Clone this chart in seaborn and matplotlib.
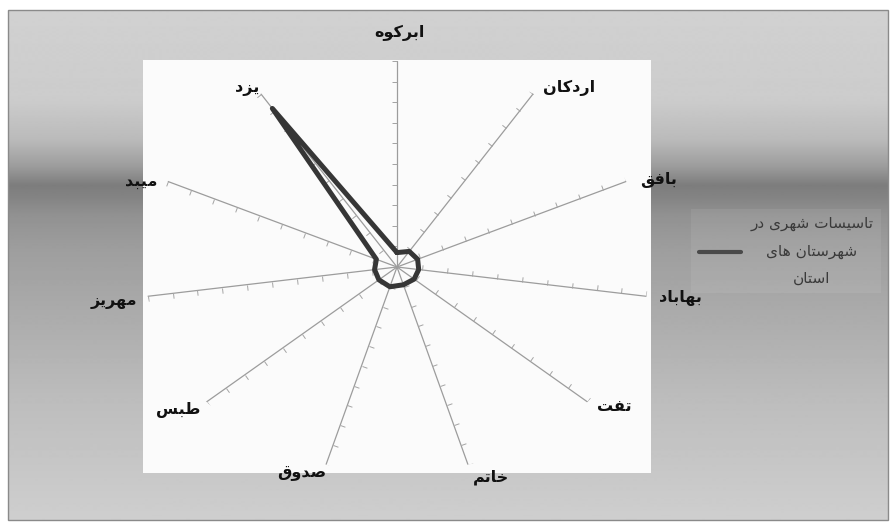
import numpy as np
import pandas as pd
import matplotlib.pyplot as plt
import seaborn as sns
from matplotlib.path import Path
from matplotlib.markers import MarkerStyle
from matplotlib.transforms import Affine2D
from matplotlib.patches import Rectangle
from matplotlib.lines import Line2D

# Data
cities = ['ابرکوه', 'اردکان', 'بافق', 'بهاباد', 'تفت', 'خاتم',
          'صدوق', 'طبس', 'مهریز', 'میبد', 'یزد']
values = [7, 9, 9, 8.7, 9, 9, 10, 9.5, 9, 9, 91.5]
series_name = ['تاسیسات شهری در', 'شهرستان های', 'استان']
r_max = 100
r_ticks = list(range(10, 101, 10))

# label offsets in pixels from spoke end, and alignment
label_pos = [(2, 28, 'center'), (10, 6, 'left'), (14, 1, 'left'), (13, -2, 'left'),
             (10, -5, 'left'), (5, -13, 'left'), (0, -9, 'right'), (-6, -8, 'right'),
             (-10, -5, 'right'), (-10, 0, 'right'), (-2, 5, 'right')]

# persian glyph shaping (matplotlib has no complex text layout)
FORMS = {
    'ا': ('\uFE8D', '\uFE8E', None, None),
    'ب': ('\uFE8F', '\uFE90', '\uFE91', '\uFE92'),
    'ت': ('\uFE95', '\uFE96', '\uFE97', '\uFE98'),
    'خ': ('\uFEA5', '\uFEA6', '\uFEA7', '\uFEA8'),
    'د': ('\uFEA9', '\uFEAA', None, None),
    'ر': ('\uFEAD', '\uFEAE', None, None),
    'ز': ('\uFEAF', '\uFEB0', None, None),
    'س': ('\uFEB1', '\uFEB2', '\uFEB3', '\uFEB4'),
    'ش': ('\uFEB5', '\uFEB6', '\uFEB7', '\uFEB8'),
    'ص': ('\uFEB9', '\uFEBA', '\uFEBB', '\uFEBC'),
    'ط': ('\uFEC1', '\uFEC2', '\uFEC3', '\uFEC4'),
    'ف': ('\uFED1', '\uFED2', '\uFED3', '\uFED4'),
    'ق': ('\uFED5', '\uFED6', '\uFED7', '\uFED8'),
    'م': ('\uFEE1', '\uFEE2', '\uFEE3', '\uFEE4'),
    'ن': ('\uFEE5', '\uFEE6', '\uFEE7', '\uFEE8'),
    'ه': ('\uFEE9', '\uFEEA', '\uFEEB', '\uFEEC'),
    'و': ('\uFEED', '\uFEEE', None, None),
    'ک': ('\uFB8E', '\uFB8F', '\uFB90', '\uFB91'),
    'ی': ('\uFBFC', '\uFBFD', '\uFBFE', '\uFBFF'),
}


def fa(text):
    out = []
    for i, ch in enumerate(text):
        if ch not in FORMS:
            out.append(ch)
            continue
        prev = text[i - 1] if i > 0 else None
        nxt = text[i + 1] if i + 1 < len(text) else None
        after_join = prev in FORMS and FORMS[prev][2] is not None
        before_join = FORMS[ch][2] is not None and nxt in FORMS
        iso, fin, ini, med = FORMS[ch]
        if after_join and before_join:
            out.append(med)
        elif after_join:
            out.append(fin)
        elif before_join:
            out.append(ini)
        else:
            out.append(iso)
    return ''.join(reversed(out))


sns.set_theme(style='white')
plt.rcParams['font.family'] = ['DejaVu Sans']

W, H = 894, 522
fig = plt.figure(figsize=(W / 100, H / 100), dpi=100)

# background: grey gradient frame + white plot area
bg = fig.add_axes([0, 0, 1, 1])
bg.set_xlim(0, W)
bg.set_ylim(H, 0)
bg.axis('off')
ys = np.arange(10, 521)
stops_y = [10, 100, 140, 165, 185, 195, 215, 250, 300, 400, 520]
stops_g = [0.82, 0.80, 0.73, 0.62, 0.49, 0.51, 0.57, 0.62, 0.66, 0.74, 0.81]
grad = np.interp(ys, stops_y, stops_g)[:, None]
bg.imshow(grad, cmap='gray', vmin=0, vmax=1, aspect='auto',
          extent=(8, 888, 520, 10), interpolation='bilinear')
bg.add_patch(Rectangle((8, 10), 880, 510, fill=False, ec='#8a8a8a', lw=1))
bg.add_patch(Rectangle((143, 60), 508, 413, fc='#fbfbfb', ec='none'))

# radar axes (stretched horizontally like the original)
cx, cy, rx, ry = 397, 267, 252, 206
ax = fig.add_axes([(cx - rx) / W, (H - cy - ry) / H, 2 * rx / W, 2 * ry / H],
                  projection='polar')
ax.set_aspect('auto')
ax.set_theta_zero_location('N')
ax.set_theta_direction(-1)
ax.set_ylim(0, r_max)
ax.grid(False)
ax.set_xticks([])
ax.set_yticks([])
ax.spines['polar'].set_visible(False)
ax.patch.set_alpha(0)

n = len(cities)
theta = np.arange(n) * 2 * np.pi / n

tick_path = Path([(0, 0), (1, 0)])
for t in theta:
    ax.plot([t, t], [0, r_max], color='#9c9c9c', lw=0.9, zorder=1)
    p0 = ax.transData.transform((t, 0))
    p1 = ax.transData.transform((t, r_max))
    ang = np.degrees(np.arctan2(p1[1] - p0[1], p1[0] - p0[0])) + 90
    mk = MarkerStyle(tick_path, fillstyle='none',
                     transform=Affine2D().rotate_deg(ang))
    ax.plot([t] * len(r_ticks), r_ticks, ls='none', marker=mk, markersize=7.5,
            mec='#a4a4a4', mew=0.7, zorder=1)

df = pd.DataFrame({'theta': list(theta) + [2 * np.pi], 'value': values + values[:1]})
sns.lineplot(data=df, x='theta', y='value', sort=False, estimator=None, ax=ax,
             color='#363636', lw=3.6, zorder=3, legend=False)
ax.lines[-1].set_solid_joinstyle('round')
ax.set_xlabel('')
ax.set_ylabel('')

for t, name, (dx, dy, ha) in zip(theta, cities, label_pos):
    ax.annotate(fa(name), xy=(t, r_max), xytext=(dx, dy), textcoords='offset pixels',
                ha=ha, va='center', fontsize=11.5, fontweight='bold', color='#111111',
                annotation_clip=False)

handle = Line2D([], [], color='#4a4a4a', lw=3)
leg = fig.legend([handle], ['\n'.join(fa(s) for s in series_name)],
                 loc='center', bbox_to_anchor=(786 / W, 1 - 251 / H),
                 frameon=True, fontsize=11, handlelength=2.8, handletextpad=0.6,
                 borderpad=0.5, fancybox=False)
leg.get_frame().set_facecolor('#ffffff')
leg.get_frame().set_alpha(0.07)
leg.get_frame().set_edgecolor('none')
for txt in leg.get_texts():
    txt.set_multialignment('center')
    txt.set_linespacing(2.0)
    txt.set_color('#3a3a3a')

fig.savefig('out.png', dpi=100)
